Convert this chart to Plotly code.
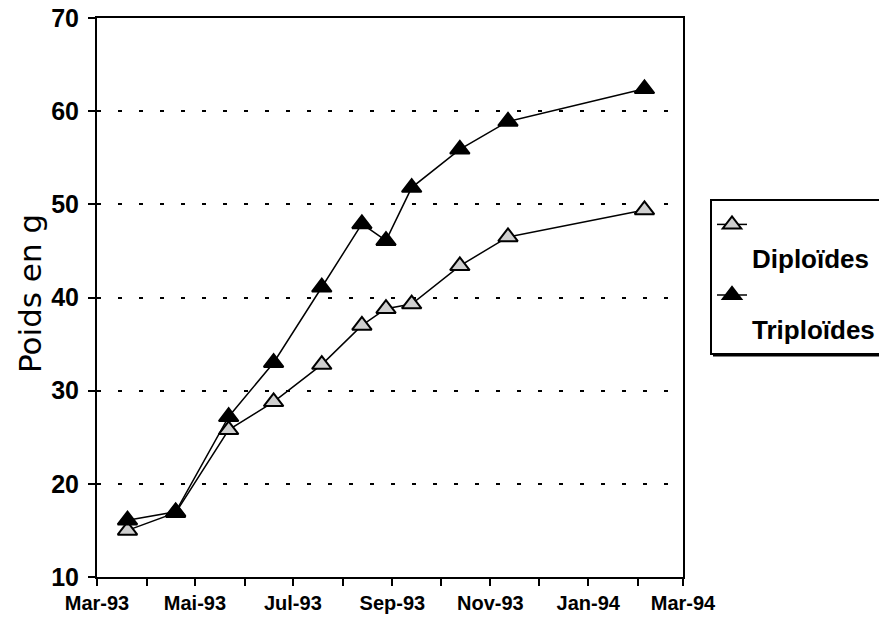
import plotly.graph_objects as go

dates = ["1993-03-20", "1993-04-19", "1993-05-22", "1993-06-19", "1993-07-19",
         "1993-08-13", "1993-08-28", "1993-09-13", "1993-10-13", "1993-11-12",
         "1994-02-05"]
diploides = [15.0, 16.9, 25.8, 28.8, 32.8, 37.0, 38.8, 39.3, 43.4, 46.5, 49.4]
triploides = [16.1, 17.0, 27.2, 33.0, 41.1, 47.9, 46.1, 51.8, 55.9, 58.9, 62.4]

tick_dates = ["1993-03-01", "1993-05-01", "1993-07-01", "1993-09-01",
              "1993-11-01", "1994-01-01", "1994-03-01"]
tick_labels = ["Mar-93", "Mai-93", "Jul-93", "Sep-93", "Nov-93", "Jan-94", "Mar-94"]
y_ticks = [10, 20, 30, 40, 50, 60, 70]
y_title = "Poids en g"

fig = go.Figure()
fig.add_trace(go.Scatter(
    x=dates, y=diploides, mode="lines+markers", name="<br>Diploïdes",
    line=dict(color="black", width=1.5),
    marker=dict(symbol="triangle-up", size=17, color="#cfcfcf",
                line=dict(color="black", width=2)),
))
fig.add_trace(go.Scatter(
    x=dates, y=triploides, mode="lines+markers", name="<br>Triploïdes",
    line=dict(color="black", width=1.5),
    marker=dict(symbol="triangle-up", size=17, color="black",
                line=dict(color="black", width=2)),
))

bold = dict(family="Liberation Sans", color="black", weight="bold")

# plot area in pixels: x 97..683, y 18..577
def px_x(p):
    return (p - 97) / 586.0

def px_y(p):
    return (577 - p) / 559.0

fig.update_layout(
    width=879, height=629,
    margin=dict(l=97, r=196, t=18, b=52, autoexpand=False),
    paper_bgcolor="white", plot_bgcolor="white",
    showlegend=True,
    legend=dict(
        x=px_x(710), y=px_y(199), xanchor="left", yanchor="top",
        bordercolor="black", borderwidth=2, bgcolor="white",
        font=dict(size=26, **bold), valign="top", itemwidth=30,
    ),
    shapes=[
        dict(type="line", xref="paper", yref="paper",
             x0=px_x(713), x1=px_x(879), y0=px_y(355), y1=px_y(355),
             line=dict(color="black", width=3)),
        dict(type="line", xref="paper", yref="paper",
             x0=px_x(877.5), x1=px_x(877.5), y0=px_y(202), y1=px_y(355),
             line=dict(color="black", width=3)),
    ],
    annotations=[
        dict(text=y_title, xref="paper", yref="paper",
             x=px_x(30), y=px_y(294), xanchor="center", yanchor="middle",
             textangle=-90, showarrow=False,
             font=dict(family="DejaVu Sans", size=31, color="black")),
    ],
    xaxis=dict(
        type="date", range=["1993-03-01", "1994-03-01"], automargin=False,
        tickvals=tick_dates, ticktext=tick_labels,
        tickfont=dict(size=20, **bold),
        ticks="outside", ticklen=7, tickwidth=1.5, tickcolor="black",
        minor=dict(dtick="M1", tick0="1993-03-01", ticks="outside",
                   ticklen=7, tickwidth=1.5, tickcolor="black", showgrid=False),
        showline=True, linecolor="black", linewidth=2, mirror=True,
        showgrid=False, zeroline=False,
    ),
    yaxis=dict(
        range=[10, 70], tickvals=y_ticks, automargin=False,
        tickfont=dict(size=25, **bold),
        ticks="outside", ticklen=7, tickwidth=1.5, tickcolor="black",
        ticklabelstandoff=4,
        showline=True, linecolor="black", linewidth=2, mirror=True,
        showgrid=True, gridcolor="black", gridwidth=2, griddash="4px,17px",
        zeroline=False,
    ),
)

fig.write_html("out.html", config={"displayModeBar": False},
               post_script="document.body.style.margin='0';document.body.style.padding='0';")
